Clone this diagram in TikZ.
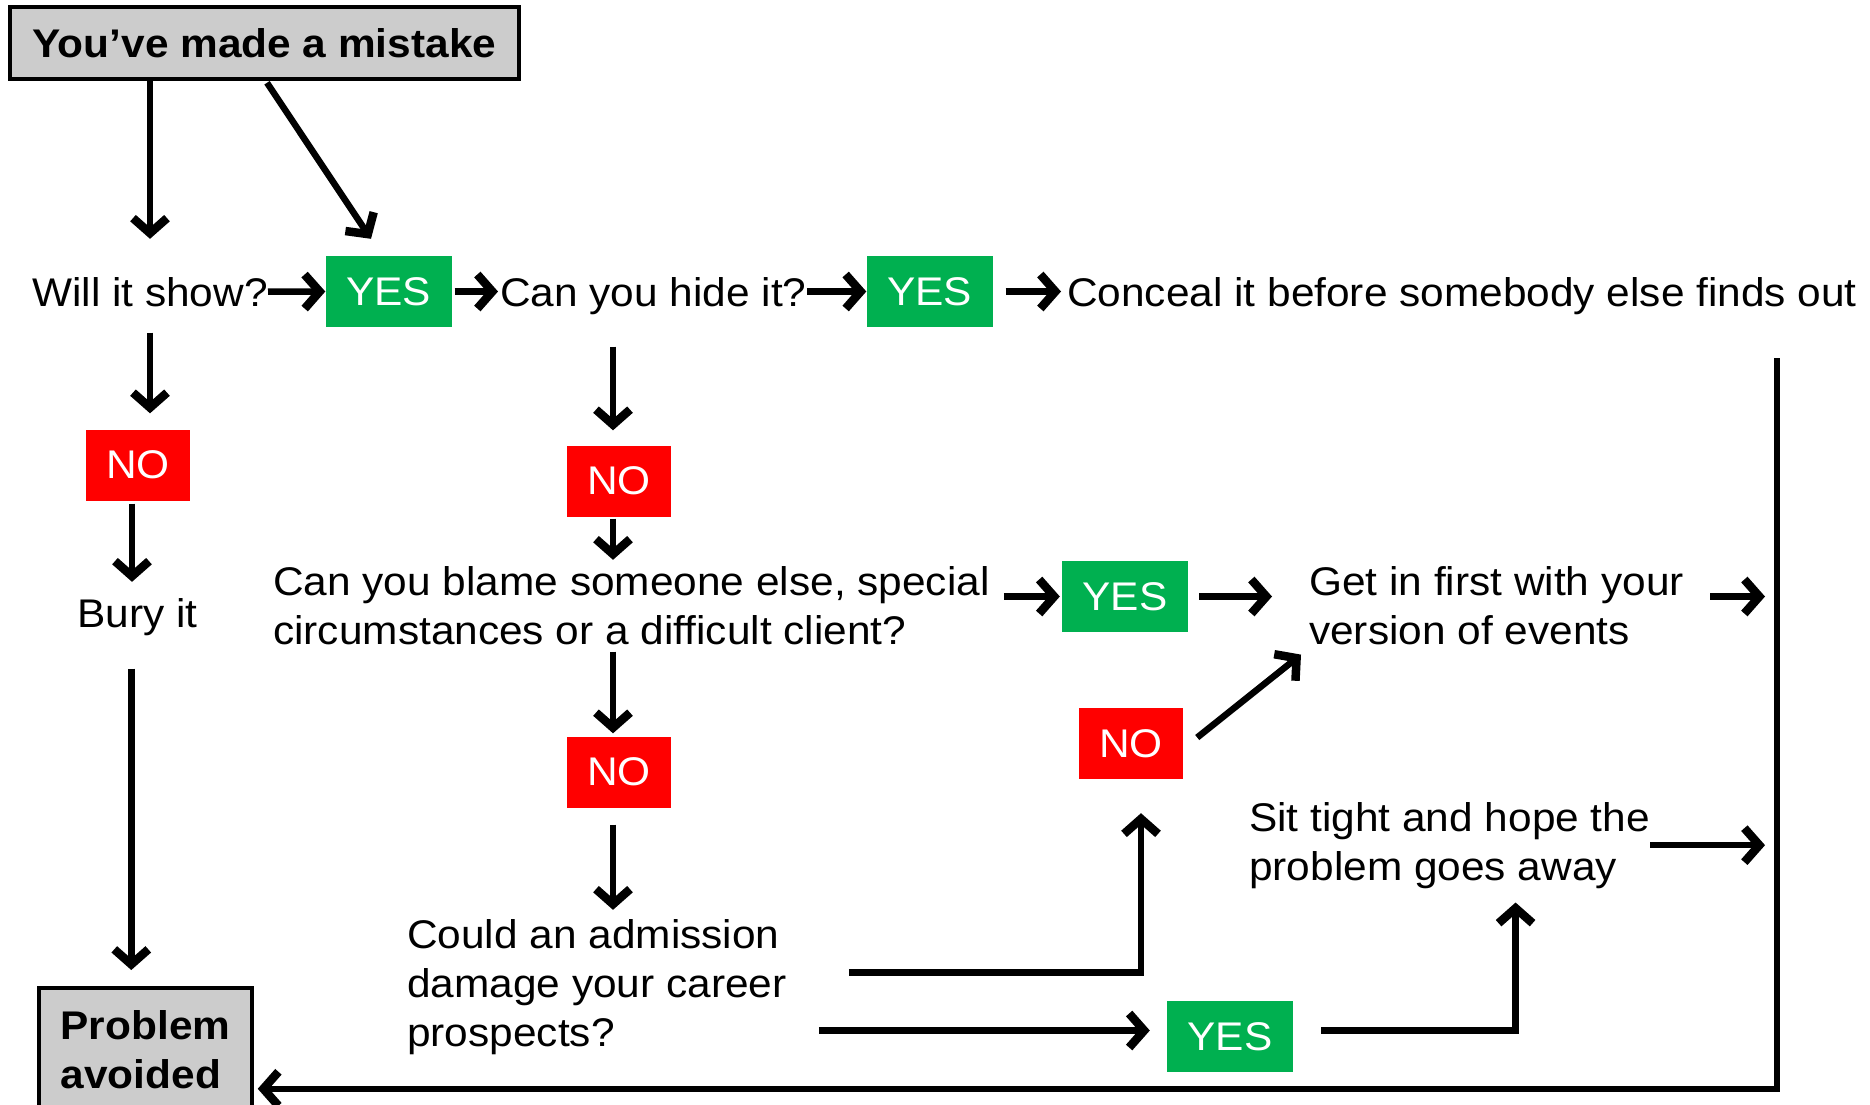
\documentclass[tikz,border=0pt]{standalone}
\usepackage{fontspec}
\setmainfont{Liberation Sans}[FakeStretch=1.06]
\usetikzlibrary{arrows.meta}
\definecolor{yesgreen}{HTML}{00B050}
\definecolor{nored}{HTML}{FF0000}
\definecolor{boxgrey}{HTML}{CCCCCC}
\newcommand\flowfont{\fontsize{40}{49}\selectfont}
\tikzset{
  flow/.style={line width=6.5pt,line join=miter},
  arr/.style={flow,-{Straight Barb[length=15pt,width=34pt,line width=8.5pt]}},
  txt/.style={inner sep=0pt,anchor=base west,align=left},
  yes/.style={fill=yesgreen,text=white,minimum width=126pt,minimum height=71pt,inner sep=0pt},
  no/.style={yes,fill=nored,minimum width=104pt},
  endbox/.style={draw,line width=3.5pt,fill=boxgrey,inner sep=0pt,font=\flowfont\bfseries}
}
\begin{document}
\begin{tikzpicture}[x=1pt,y=-1pt,font=\flowfont]
\useasboundingbox (0,0) rectangle (1870,1104);
\clip (0,0) rectangle (1870,1104);
\node[endbox,minimum width=509pt,minimum height=72pt] (mistake) at (264.5,43) {You’ve made a mistake};
\node[txt] (show) at (32,306) {Will it show?};
\node[yes] (yesA) at (388.5,291.5) {YES};
\node[txt] (hide) at (500,306) {Can you hide it?};
\node[yes] (yesB) at (929.5,291.5) {YES};
\node[txt] (conceal) at (1067,306) {Conceal it before somebody else finds out};
\node[no] (noA) at (138,465) {NO};
\node[txt] (bury) at (77,627) {Bury it};
\node[endbox,anchor=north,minimum width=213pt,minimum height=124pt,align=left] (avoided) at (145.5,986) {Problem\\avoided};
\node[no] (noB) at (619,481) {NO};
\node[txt] (blame) at (273,644) {Can you blame someone else, special\\circumstances or a difficult client?};
\node[yes] (yesC) at (1125,596.5) {YES};
\node[txt] (first) at (1309,644) {Get in first with your\\version of events};
\node[no] (noC) at (619,772) {NO};
\node[no] (noD) at (1131,743.5) {NO};
\node[txt] (sit) at (1249,880) {Sit tight and hope the\\problem goes away};
\node[txt] (admit) at (407,1046) {Could an admission\\damage your career\\prospects?};
\node[yes] (yesD) at (1230,1036.5) {YES};
\coordinate (rail) at (1777,358);

\draw[arr,shorten >=38pt] (mistake.south -| show.north) -- (show.north);
\draw[arr] ([xshift=2.5pt,yshift=-2pt]mistake.south) -- ([xshift=-17.5pt,yshift=17pt]yesA.north);
\draw[arr] (show.east) -- (yesA.west);
\draw[arr,shorten <=3pt,shorten >=2pt] (yesA.east) -- (yesA.east -| hide.west);
\draw[arr] (hide.east |- yesB.west) -- (yesB.west);
\draw[arr,shorten <=13pt,shorten >=6pt] (yesB.east) -- (yesB.east -| conceal.west);
\draw[arr,shorten <=26pt,shorten >=16pt] (show.south) -- (show.south |- noA.north);
\draw[arr,shorten <=3pt,shorten >=16pt] ([xshift=-6pt]noA.south) -- ([xshift=-6pt]noA.south |- bury.north);
\draw[arr,shorten <=33pt,shorten >=16pt] ([xshift=-6pt]bury.south) -- ([xshift=-6pt]bury.south |- avoided.north);
\draw[arr,shorten <=32pt,shorten >=15pt] ([xshift=-6pt]noB.north |- hide.south) -- ([xshift=-6pt]noB.north);
\draw[arr,shorten <=2pt,shorten >=6pt] ([xshift=-6pt]noB.south) -- ([xshift=-6pt]noB.south |- blame.north);
\draw[arr,shorten <=7pt,shorten >=3pt] ([xshift=-6pt]noC.north |- blame.south) -- ([xshift=-6pt]noC.north);
\draw[arr,shorten <=17pt,shorten >=9pt] ([xshift=-6pt]noC.south) -- ([xshift=-6pt]noC.south |- admit.north);
\draw[arr,shorten <=14pt,shorten >=2pt] (blame.east |- yesC.west) -- (yesC.west);
\draw[arr,shorten <=11pt,shorten >=37pt] (yesC.east) -- (yesC.east -| first.west);
\draw[arr,shorten <=26pt,shorten >=12pt] (first.east |- yesC.east) -- (yesC.east -| rail);
\draw[arr] ([xshift=14pt,yshift=6pt]noD.east) -- ([xshift=-8pt,yshift=-10pt]first.south west);
\draw[arr,shorten <=62pt,shorten >=34pt] ([yshift=14pt]admit.east) -| ([xshift=10pt]noD.south);
\draw[arr,shorten >=12pt] (sit.east) -- (sit.east -| rail);
\draw[arr,shorten <=32pt,shorten >=17pt] ([yshift=6pt]admit.east |- yesD.west) -- ([yshift=6pt]yesD.west);
\draw[arr,shorten <=28pt,shorten >=14pt] ([yshift=6pt]yesD.east) -| ([xshift=66pt]sit.south);
\draw[arr,shorten >=4pt] (rail) |- ([yshift=-39pt]avoided.east);
\end{tikzpicture}
\end{document}
